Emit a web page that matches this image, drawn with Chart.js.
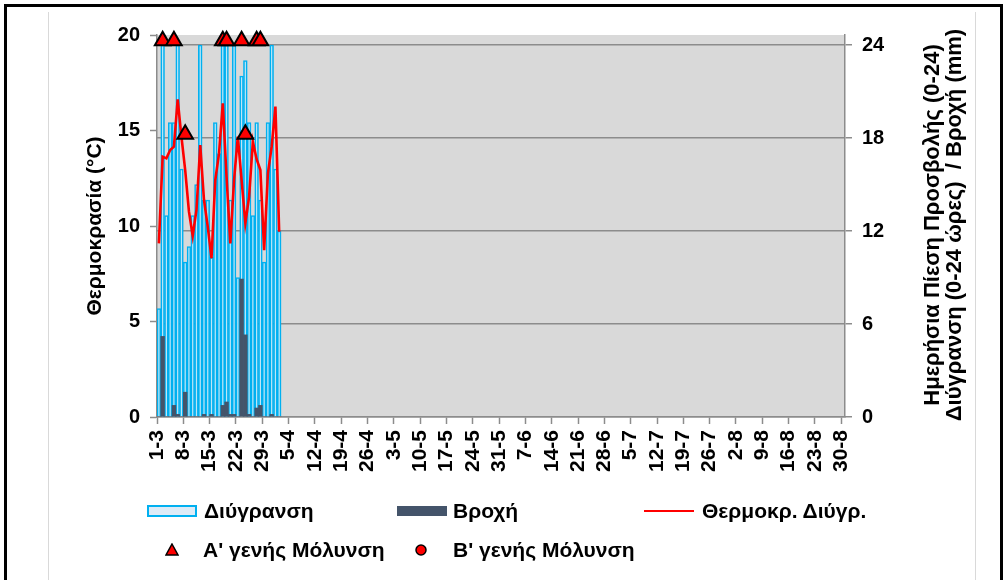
<!DOCTYPE html>
<html lang="el">
<head>
<meta charset="utf-8">
<title>Διύγρανση - Θερμοκρασία</title>
<script src="https://cdn.jsdelivr.net/npm/chart.js"></script>
<style>
  html, body { margin: 0; padding: 0; background: #fff; }
  body { width: 1006px; height: 580px; position: relative; overflow: hidden;
         font-family: "Liberation Sans", Arial, sans-serif; }
  #frame { position: absolute; left: 4px; top: 4px; width: 993px; height: 620px; border: 3px solid #000; }
  #inner { position: absolute; left: 48px; top: 12px; width: 926px; height: 620px;
           border-left: 1px solid #d9d9d9; border-right: 1px solid #d9d9d9; }
  #graf { position: absolute; left: 0; top: 0; }
  .leg { position: absolute; font-weight: bold; font-size: 21px; line-height: 24px; color: #000; white-space: nowrap; }
  .sw { position: absolute; box-sizing: border-box; }
</style>
</head>
<body>
<div id="frame"></div>
<div id="inner"></div>
<canvas id="graf" width="1006" height="580"></canvas>

<!-- υπόμνημα -->
<div class="sw" style="left:147px;top:505px;width:50px;height:12px;background:#DDEBF7;border:2px solid #00B0F0;"></div>
<div class="leg" style="left:204px;top:499px;">Διύγρανση</div>
<div class="sw" style="left:397px;top:506px;width:50px;height:10px;background:#44546A;"></div>
<div class="leg" style="left:453px;top:499px;">Βροχή</div>
<div class="sw" style="left:644px;top:510px;width:50px;height:2px;background:#FF0000;"></div>
<div class="leg" style="left:702px;top:499px;">Θερμοκρ. Διύγρ.</div>
<svg class="sw" style="left:165px;top:543px;" width="14" height="13"><polygon points="7,1 13,12 1,12" fill="#FF0000" stroke="#000" stroke-width="1.5"/></svg>
<div class="leg" style="left:203px;top:538px;">Α' γενής Μόλυνση</div>
<svg class="sw" style="left:415px;top:544px;" width="12" height="12"><circle cx="6" cy="6" r="5" fill="#FF0000" stroke="#000" stroke-width="1.5"/></svg>
<div class="leg" style="left:453px;top:538px;">Β' γενής Μόλυνση</div>

<script>
// ημερομηνίες 1-3 ... 30-8
const mhnes = [3, 4, 5, 6, 7, 8];
const hmeresMhna = [31, 30, 31, 30, 31, 30];
const hmeromhnies = [];
mhnes.forEach((m, k) => {
    for (let d = 1; d <= hmeresMhna[k]; d++) hmeromhnies.push(d + '-' + m);
});

// διύγρανση (ώρες), 1-3 έως 2-4
const diygransh = [7, 24, 13, 19, 19, 24, 16, 10, 11, 13, 15, 24, 14, 14, 10.3, 19, 17,
    24, 24, 14, 24, 9, 22, 23, 19, 13, 19, 14, 10, 19, 24, 16, 12];
// βροχή (mm)
const vroxh = [0, 5.2, 0, 0, 0.75, 0.17, 0, 1.6, 0, 0, 0, 0, 0.17, 0, 0.17, 0, 0,
    0.75, 0.97, 0.17, 0.17, 0, 8.9, 5.3, 0.17, 0, 0.58, 0.75, 0, 0, 0.17, 0, 0];
// θερμοκρασία διύγρανσης (oC)
const thermokrasia = [9.09, 13.63, 13.54, 13.98, 14.15, 16.63, 14.68, 12.93, 10.75, 9.48,
    10.84, 14.24, 11.36, 9.97, 8.31, 12.41, 13.8, 16.42, 12.58, 9.09, 12.41, 14.68, 12.41,
    10.14, 11.54, 14.41, 13.5, 12.93, 8.74, 12.76, 14.15, 16.25, 9.7];
// μολύνσεις
const molynshA = [null, 19.7, null, null, 19.7, null, null, 14.8, null, null, null, null, null,
    null, null, null, null, 19.7, 19.7, null, null, null, 19.7, 14.8, null, null, 19.7, 19.7];
const molynshB = [];

const ticksDeksia = [0, 6, 12, 18, 24];
const titlosAristera = 'Θερμοκρασία (°C)';
const titlosDeksia = ['Ημερήσια Πίεση Προσβολής (0-24)', 'Διύγρανση (0-24 ώρες)  / Βροχή (mm)'];

const GRI_AXONA = '#8C8C8C';
const GRAMMATOSEIRA = '"Liberation Sans", Arial, sans-serif';

Chart.defaults.font.family = GRAMMATOSEIRA;
Chart.defaults.color = '#000';

const fontoPlot = {
    id: 'fontoPlot',
    beforeDraw(chart) {
        const {ctx, chartArea: a} = chart;
        ctx.save();
        ctx.fillStyle = '#D9D9D9';
        ctx.fillRect(a.left, a.top, a.right - a.left, a.bottom - a.top);
        ctx.restore();
    }
};

// τίτλος δεξιού άξονα, διαβάζεται από κάτω προς τα πάνω
const titlosDeksiou = {
    id: 'titlosDeksiou',
    afterDraw(chart) {
        const c = chart.ctx;
        c.save();
        c.translate(933, 225);
        c.rotate(-Math.PI / 2);
        c.font = 'bold 22px ' + GRAMMATOSEIRA;
        c.fillStyle = '#000';
        c.textAlign = 'center';
        c.textBaseline = 'middle';
        c.fillText(titlosDeksia[0], 0, 0);
        c.fillText(titlosDeksia[1], 0, 22);
        c.restore();
    }
};

new Chart(document.getElementById('graf'), {
    type: 'bar',
    data: {
        labels: hmeromhnies,
        datasets: [
            {
                label: 'Διύγρανση',
                data: diygransh,
                yAxisID: 'y1',
                backgroundColor: '#BDE6F7',
                borderColor: '#00B0F0',
                borderWidth: 1.6,
                barPercentage: 1,
                categoryPercentage: 1,
                grouped: false,
                order: 3
            },
            {
                label: 'Βροχή',
                data: vroxh,
                yAxisID: 'y1',
                backgroundColor: '#44546A',
                borderWidth: 0,
                barPercentage: 1,
                categoryPercentage: 1,
                grouped: false,
                order: 2
            },
            {
                type: 'line',
                label: 'Θερμοκρ. Διύγρ.',
                data: thermokrasia,
                yAxisID: 'y',
                borderColor: '#FF0000',
                borderWidth: 2.6,
                pointRadius: 0,
                tension: 0,
                order: 1
            },
            {
                type: 'line',
                label: "Α' γενής Μόλυνση",
                data: molynshA,
                yAxisID: 'y',
                showLine: false,
                pointStyle: 'triangle',
                pointRadius: 9,
                backgroundColor: '#FF0000',
                borderColor: '#000',
                borderWidth: 2,
                clip: false,
                order: 0
            },
            {
                type: 'line',
                label: "Β' γενής Μόλυνση",
                data: molynshB,
                yAxisID: 'y',
                showLine: false,
                pointStyle: 'circle',
                pointRadius: 6,
                backgroundColor: '#FF0000',
                borderColor: '#000',
                borderWidth: 1.5,
                order: 0
            }
        ]
    },
    options: {
        responsive: false,
        animation: false,
        events: [],
        layout: { padding: { left: 83, right: 0, top: 35, bottom: 0 } },
        plugins: { legend: { display: false }, tooltip: { enabled: false } },
        scales: {
            x: {
                type: 'category',
                offset: true,
                grid: {
                    offset: true,
                    drawOnChartArea: false,
                    tickLength: 7,
                    tickWidth: 1.5,
                    tickColor: c => (c.index % 7 === 0 ? GRI_AXONA : 'transparent')
                },
                border: { color: GRI_AXONA, width: 1.5 },
                ticks: {
                    autoSkip: false,
                    maxRotation: 90,
                    minRotation: 90,
                    padding: 6,
                    labelOffset: -1.9,
                    font: { size: 21, weight: 'bold' },
                    callback: function (v, i) {
                        return i % 7 === 0 ? this.getLabelForValue(v) : '';
                    }
                },
                afterFit: s => { s.height = 163; }
            },
            y: {
                position: 'left',
                min: 0,
                max: 20,
                ticks: { stepSize: 5, padding: 10, font: { size: 20, weight: 'bold' } },
                grid: { drawOnChartArea: false, tickLength: 7, tickWidth: 1.5, tickColor: GRI_AXONA },
                border: { color: GRI_AXONA, width: 1.5 },
                title: {
                    display: true,
                    text: titlosAristera,
                    font: { size: 21, weight: 'bold' },
                    padding: { top: 0, bottom: 0 }
                },
                afterFit: s => { s.width = 74; }
            },
            y1: {
                position: 'right',
                min: 0,
                max: 24.65,
                afterBuildTicks: s => { s.ticks = ticksDeksia.map(v => ({ value: v })); },
                ticks: { padding: 10, font: { size: 20, weight: 'bold' } },
                grid: { color: GRI_AXONA, lineWidth: 1.5, tickLength: 7, tickWidth: 1.5, tickColor: GRI_AXONA },
                border: { color: GRI_AXONA, width: 1.5 },
                afterFit: s => { s.width = 161; }
            }
        }
    },
    plugins: [fontoPlot, titlosDeksiou]
});
</script>
</body>
</html>
